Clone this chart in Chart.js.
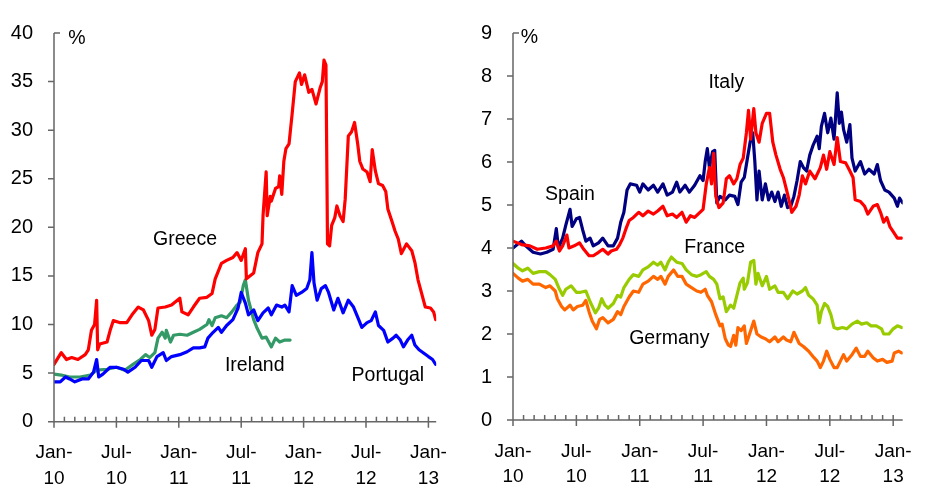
<!DOCTYPE html>
<html>
<head>
<meta charset="utf-8">
<script src="https://cdn.jsdelivr.net/npm/chart.js@4"></script>
<style>
  body { margin: 0; background: #fff; width: 931px; height: 491px; position: relative; overflow: hidden; }
  canvas { position: absolute; top: 0; }
</style>
</head>
<body>
<canvas id="left" width="470" height="491" style="left:0"></canvas>
<canvas id="right" width="471" height="491" style="left:460px"></canvas>
<script>
// x values are months since Jan 2010
const xTickMonths = [0, 6, 12, 18, 24, 30, 36];
const xTickLabels = [['Jan-','10'],['Jul-','10'],['Jan-','11'],['Jul-','11'],['Jan-','12'],['Jul-','12'],['Jan-','13']];

// left panel: 10-year yields, %
const greeceM = [0,0.7,1.2,1.7,2.3,3,3.3,3.6,3.9,4.1,4.2,4.4,5.1,5.4,5.7,6.3,7,7.5,8.1,8.6,9.1,9.4,9.7,10,10.7,11.3,12.1,12.3,12.9,13.4,14,14.7,15.2,15.5,15.8,16.1,16.6,17.2,17.6,18,18.4,18.5,19.2,19.6,20,20.1,20.4,20.5,20.8,20.9,21.3,21.6,21.7,21.9,22.1,22.3,22.6,22.9,23.2,23.6,23.8,24.1,24.5,24.8,25.2,25.6,25.8,25.96,26.15,26.3,26.5,26.7,27,27.2,27.5,27.8,28,28.3,28.6,28.9,29.2,29.4,29.7,30.1,30.4,30.6,30.9,31.2,31.6,31.9,32.1,32.5,32.8,33.1,33.4,33.9,34.4,34.7,35,35.4,35.7,36.2,36.5,36.7];
const greeceV = [5.9,7.1,6.4,6.6,6.4,6.9,7.4,9.4,10,12.5,7.4,8,8.2,9.4,10.4,10.2,10.2,11,11.8,11.5,10.4,8.9,9.5,11.7,11.8,12,12.7,11.3,11,11.8,12.7,12.8,13.2,14.7,15.5,16.3,16.6,16.9,17.4,16.6,17.8,14.7,15.3,17.4,18.3,21.2,25.7,21.2,23.2,22.7,24,24.2,25.3,23.4,26.8,28.1,28.6,31.7,35,35.9,34.7,35.7,33.9,34.2,32.7,34.4,35,37.2,36.7,18.3,18.1,20.2,21,22.2,21.2,20.6,22.9,29.4,29.8,30.8,28.6,26.8,26,25.7,24.7,28,25.8,24.5,24.3,23.7,21.9,20.6,19.6,18.8,17.3,18.3,17.6,16.4,14.6,13,11.8,11.7,11.3,10.5];

const portugalM = [0,0.6,1.1,1.5,2,2.7,3.3,3.8,4.1,4.3,4.7,5.4,6,6.7,7.1,7.8,8.4,9.1,9.4,9.9,10.5,10.8,11.3,12.1,12.8,13.4,14,14.5,14.8,15.3,15.8,16.1,16.6,17.2,17.7,18,18.4,18.7,19.2,19.6,20.1,20.6,20.9,21.4,21.9,22.2,22.6,22.9,23.3,23.8,24.3,24.6,24.8,25,25.3,25.7,26.1,26.4,26.9,27.3,27.8,28.3,28.8,29.3,29.6,30.1,30.5,30.9,31.2,31.7,32.1,32.6,32.9,33.3,33.6,34,34.4,34.7,35.1,35.5,36,36.4,36.7];
const portugalV = [4.1,4.1,4.6,4.4,4.1,4.4,4.4,5.1,6.4,4.6,4.9,5.6,5.6,5.4,5.1,5.6,6.3,6.3,5.6,6.7,7.1,6.3,6.7,6.9,7.2,7.6,7.6,7.7,8.6,9.2,9.7,9.2,9.9,10.5,11.7,13.3,12.2,11,11.5,10.4,11.2,11.7,11,12,11.8,12,11.3,14,13,13.3,13.7,14.6,17.4,14.3,12.5,13.7,14,13.3,11.5,12.7,11.2,12.5,11.8,10.5,9.7,10.2,10.4,11.3,9.9,9.4,8.2,8.6,8.9,8.4,7.7,8.4,8.9,7.9,7.4,7.1,6.7,6.4,5.9];

const irelandM = [0,0.7,1.5,2.5,3.5,4.1,5.1,6,6.8,7.6,8.3,8.8,9.2,9.7,10,10.4,10.7,10.8,11.2,11.5,12.1,12.8,13.4,14,14.7,14.9,15.2,15.5,16.1,16.6,17.1,17.6,17.9,18.2,18.4,18.7,19.2,19.5,20,20.4,20.9,21.3,21.7,22.2,22.7];
const irelandV = [4.9,4.8,4.6,4.6,4.8,5.3,5.4,5.6,5.3,5.9,6.4,6.9,6.6,7.1,8.6,9.2,8.6,9.4,8.2,8.9,9,8.9,9.2,9.5,10,10.5,9.9,10.7,10.9,10.7,11.3,12,12.3,14,14.6,12.5,10.5,9.7,8.6,8.7,7.7,8.6,8.2,8.4,8.4];

// right panel
const italyM = [0,0.8,1.6,2.3,3.1,3.8,4.1,4.4,4.7,5.1,5.3,5.8,6.3,6.7,7.2,7.6,8.1,8.5,9,9.3,9.8,10.1,10.4,10.7,11,11.4,11.9,12.3,12.8,13.3,13.7,14.2,14.6,15.1,15.5,16,16.4,16.8,17.2,17.7,18,18.3,18.6,18.8,19,19.2,19.5,19.9,20.2,20.5,20.9,21.2,21.5,21.8,22.1,22.3,22.5,22.8,23,23.3,23.6,24,24.3,24.6,24.9,25.3,25.6,25.9,26.2,26.4,26.8,27.1,27.4,27.7,28.1,28.6,29.1,29.4,29.7,30,30.4,30.7,31,31.5,31.9,32.2,32.4,32.9,33.3,33.6,34.1,34.5,34.8,35.1,35.4,35.7,36,36.4,36.8];
const italyV = [4.16,4.08,4.05,3.97,4,4.05,4.16,3.93,4.05,4.3,4,4.05,4.12,3.97,3.82,3.82,3.9,3.97,3.86,3.93,3.97,4.08,4.23,4.45,4.64,4.71,4.83,4.75,4.86,4.79,4.86,4.97,4.75,4.79,4.71,4.83,4.6,4.75,4.71,4.83,4.9,5.49,5.87,5.49,6.2,5.2,4.94,5.05,5.61,5.68,5.49,5.61,5.94,6.09,6.68,7.2,6.53,7.24,6.68,6.46,6.9,7.13,7.13,6.46,6.16,5.83,5.64,5.35,5.05,4.83,4.97,5.23,5.68,5.49,5.79,5.61,5.87,6.16,5.83,6.24,5.94,6.57,6.01,5.98,5.79,5.64,5.12,5.08,4.97,4.79,4.97,5.01,4.83,4.6,4.71,4.49,4.38,4.23,4.23];

const spainM = [0,0.8,1.2,1.9,2.6,3.2,3.8,4.1,4.3,4.7,5,5.4,5.6,6,6.3,6.6,6.9,7.3,7.6,8.1,8.5,9,9.5,9.9,10.2,10.5,10.8,11.1,11.7,12,12.3,12.8,13.3,13.7,14.2,14.6,15.1,15.5,15.8,16.3,16.7,17.2,17.7,18,18.2,18.4,18.6,18.9,19.1,19.3,19.6,20.1,20.5,21,21.3,21.6,21.9,22.2,22.5,22.7,22.9,23.1,23.3,23.6,23.9,24.2,24.5,24.8,25.1,25.4,25.7,26,26.3,26.6,26.9,27.2,27.5,27.8,28.1,28.4,28.8,29,29.2,29.5,29.8,30.1,30.4,30.7,30.9,31.1,31.3,31.6,31.9,32.1,32.4,32.9,33.3,33.7,34.2,34.5,34.8,35.2,35.6,36.1,36.4,36.6,36.9];
const spainV = [4,4.16,4.05,3.9,3.86,3.9,3.97,4.45,4,4.23,4.53,4.9,4.5,4.68,4.71,4.42,4.16,4.23,4.05,4.12,4.23,4.05,4.05,4.23,4.6,4.83,5.35,5.49,5.46,5.3,5.49,5.35,5.46,5.3,5.49,5.23,5.3,5.53,5.3,5.46,5.3,5.46,5.68,5.57,6.01,6.31,5.87,6.24,6.27,5.05,5.2,5.12,5.23,5.2,5.01,5.53,5.64,6.09,6.53,6.68,6.01,5.12,5.79,5.12,5.49,5.12,5.3,5.08,5.3,4.97,5.23,4.94,4.97,5.2,5.57,6.01,5.87,5.79,6.16,6.38,6.6,6.31,6.83,7.13,6.68,7.02,6.53,7.61,6.9,7.16,6.76,6.46,6.87,6.09,5.79,6.01,5.72,5.83,5.72,5.94,5.57,5.35,5.3,5.16,4.97,5.16,5.05];

const franceM = [0,0.5,0.9,1.4,1.9,2.5,3.1,3.5,4,4.4,4.7,5,5.5,6,6.4,6.9,7.3,7.8,8.1,8.4,8.7,9,9.5,9.9,10.2,10.5,11,11.4,11.9,12.3,12.8,13.3,13.7,14,14.4,14.7,15,15.5,16,16.4,16.9,17.4,17.8,18.3,18.6,19,19.3,19.6,19.9,20.2,20.6,20.9,21.2,21.5,21.8,21.9,22.2,22.5,22.8,23,23.2,23.6,24,24.3,24.8,25.1,25.6,26,26.5,26.9,27.4,27.7,28,28.4,28.8,29,29.2,29.5,29.8,30.1,30.4,30.7,31.2,31.6,32.1,32.6,33,33.5,33.9,34.4,34.9,35.1,35.6,36,36.4,36.8];
const franceV = [3.64,3.53,3.47,3.53,3.41,3.45,3.45,3.38,3.27,3.04,2.9,3.04,3.12,2.97,2.97,3,2.75,2.49,2.6,2.82,2.67,2.6,2.71,2.9,2.86,3.08,3.27,3.38,3.34,3.49,3.56,3.67,3.6,3.67,3.49,3.67,3.79,3.67,3.64,3.49,3.38,3.34,3.38,3.45,3.34,3.27,3.16,2.82,2.86,2.52,2.67,2.6,2.9,3.19,3.3,3.04,3.19,3.67,3.71,3.16,3.41,3.12,3.34,3.04,3.12,2.97,2.97,2.82,3,2.93,3,3.08,2.9,2.82,2.67,2.26,2.52,2.71,2.64,2.45,2.15,2.12,2.15,2.12,2.23,2.3,2.23,2.26,2.19,2.19,2.12,2,2,2.12,2.19,2.15];

const germanyM = [0,0.5,0.9,1.4,1.9,2.5,3.1,3.5,4,4.2,4.6,4.9,5.4,5.7,6.1,6.6,6.9,7.2,7.5,7.9,8.2,8.5,9,9.5,9.9,10.2,10.5,11,11.4,11.9,12.3,12.8,13.3,13.7,14,14.4,14.7,15.2,15.6,16,16.4,16.9,17.4,17.8,18.2,18.4,18.8,19.2,19.6,19.8,20.1,20.4,20.6,20.9,21.1,21.3,21.6,21.9,22.1,22.4,22.8,23.1,23.5,23.9,24.3,24.8,25.1,25.6,25.9,26.3,26.6,27.1,27.5,28,28.5,28.8,29.1,29.4,29.7,30,30.4,30.7,31,31.3,31.6,32.1,32.5,32.9,33.3,33.6,34.1,34.5,35,35.4,35.9,36.1,36.5,36.8];
const germanyV = [3.41,3.3,3.23,3.27,3.16,3.16,3.08,3.12,3,2.82,2.64,2.56,2.67,2.56,2.64,2.67,2.78,2.52,2.3,2.12,2.34,2.38,2.26,2.34,2.52,2.45,2.64,2.86,3,2.97,3.16,3.23,3.34,3.27,3.34,3.16,3.34,3.49,3.34,3.34,3.16,3.08,3,2.97,3.04,2.9,2.75,2.45,2.19,2.23,1.89,1.74,1.71,1.97,1.74,2.15,2.08,2.19,1.78,2,2.3,2,1.93,1.89,1.82,1.93,1.82,1.93,1.86,1.82,2.04,1.78,1.71,1.6,1.45,1.37,1.22,1.37,1.6,1.41,1.22,1.22,1.37,1.52,1.37,1.52,1.67,1.48,1.48,1.6,1.45,1.37,1.41,1.34,1.37,1.56,1.6,1.56];

// text annotations, placed in data coordinates
const leftLabels = [
  { text: '%', x: 2.2, y: 39.4 },
  { text: 'Greece', x: 12.6, y: 18.7 },
  { text: 'Ireland', x: 19.3, y: 5.8 },
  { text: 'Portugal', x: 32.1, y: 4.7 }
];
const rightLabels = [
  { text: '%', x: 1.55, y: 8.9 },
  { text: 'Spain', x: 5.4, y: 5.23 },
  { text: 'Italy', x: 20.2, y: 7.84 },
  { text: 'France', x: 19.1, y: 4.0 },
  { text: 'Germany', x: 14.8, y: 1.89 }
];

const FONT = '"Liberation Sans", Arial, sans-serif';
const pts = (m, v) => m.map((x, i) => ({ x: x, y: v[i] }));

// axis lines, monthly ticks and the text labels
const axesPlugin = {
  id: 'axesPlugin',
  afterDraw(chart, args, opts) {
    const { ctx, chartArea: a, scales: { x, y } } = chart;
    ctx.save();
    ctx.strokeStyle = '#666';
    ctx.lineWidth = 1.5;
    ctx.beginPath();
    ctx.moveTo(a.left, a.top);
    ctx.lineTo(a.left, a.bottom);
    ctx.lineTo(a.right, a.bottom);
    y.ticks.forEach(t => {
      const py = y.getPixelForValue(t.value);
      if (t.value === y.max) { ctx.moveTo(a.left, py); ctx.lineTo(a.left + 6, py); }
      else { ctx.moveTo(a.left - 6, py); ctx.lineTo(a.left, py); }
    });
    for (let m = 0; m <= x.max; m++) {
      const px = x.getPixelForValue(m);
      ctx.moveTo(px, a.bottom - 5);
      ctx.lineTo(px, m % 6 === 0 ? a.bottom + 6 : a.bottom);
    }
    ctx.stroke();
    ctx.fillStyle = '#000';
    ctx.font = '19.5px ' + FONT;
    ctx.textAlign = 'center';
    ctx.textBaseline = 'middle';
    opts.labels.forEach(l => ctx.fillText(l.text, x.getPixelForValue(l.x), y.getPixelForValue(l.y)));
    ctx.restore();
  }
};

function makeChart(id, datasets, yMax, yStep, xMax, yWidth, xHeight, padRight, labels) {
  return new Chart(document.getElementById(id), {
    type: 'line',
    data: {
      datasets: datasets.map(d => ({
        data: d.data, borderColor: d.color, borderWidth: 3.2,
        borderJoinStyle: 'round', borderCapStyle: 'round',
        pointRadius: 0, tension: 0, fill: false
      }))
    },
    options: {
      responsive: false,
      animation: false,
      events: [],
      layout: { padding: { top: 16, right: padRight, left: 0, bottom: 0 } },
      plugins: { legend: { display: false }, tooltip: { enabled: false }, axesPlugin: { labels: labels } },
      scales: {
        x: {
          type: 'linear', min: 0, max: xMax,
          grid: { display: false, drawTicks: false },
          border: { display: false },
          afterBuildTicks: s => { s.ticks = xTickMonths.map(v => ({ value: v })); },
          afterFit: s => { s.height = xHeight; },
          ticks: {
            autoSkip: false, maxRotation: 0, padding: 19, color: '#000',
            font: { family: FONT, size: 19, lineHeight: 1.32 },
            callback: v => xTickLabels[xTickMonths.indexOf(v)]
          }
        },
        y: {
          min: 0, max: yMax,
          grid: { display: false, drawTicks: false },
          border: { display: false },
          afterFit: s => { s.width = yWidth; },
          ticks: {
            stepSize: yStep, padding: 21, color: '#000',
            font: { family: FONT, size: 20 }
          }
        }
      }
    },
    plugins: [axesPlugin]
  });
}

makeChart('left', [
  { data: pts(greeceM, greeceV), color: '#FF0000' },
  { data: pts(portugalM, portugalV), color: '#0000FF' },
  { data: pts(irelandM, irelandV), color: '#339966' }
], 40, 5, 36.75, 54, 69.3, 33.8, leftLabels);

makeChart('right', [
  { data: pts(italyM, italyV), color: '#FF0000' },
  { data: pts(spainM, spainV), color: '#000080' },
  { data: pts(franceM, franceV), color: '#99CC00' },
  { data: pts(germanyM, germanyV), color: '#FF6600' }
], 9, 1, 36.9, 53, 71, 13.6, rightLabels);
</script>
</body>
</html>
